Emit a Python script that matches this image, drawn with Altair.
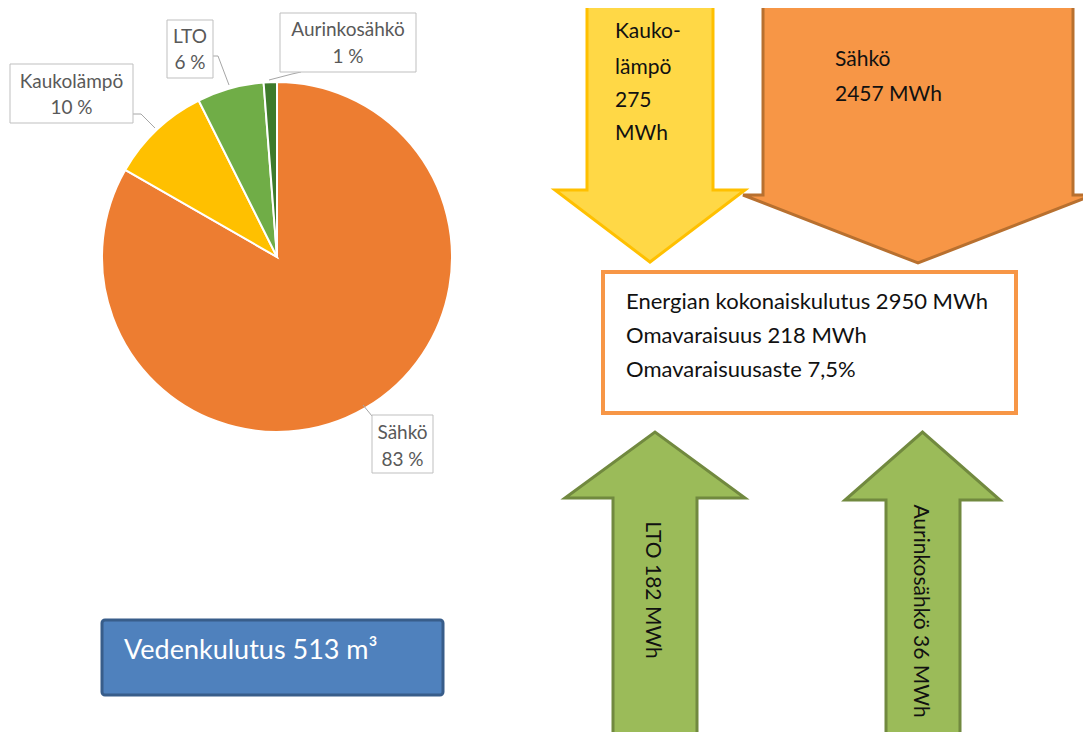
import altair as alt
import pandas as pd

# ---------------- data ----------------
sources = ["Sähkö", "Kaukolämpö", "LTO", "Aurinkosähkö"]
energy_mwh = [2457, 275, 182, 36]
share_labels = ["83 %", "10 %", "6 %", "1 %"]
total_mwh = 2950
self_suff_mwh = 218
self_suff_rate = "7,5%"
water_m3 = 513

slice_colors = ["#ED7D31", "#FFC000", "#70AD47", "#3E7A2B"]

# ---------------- layout (reference pixel frame) ----------------
W, H, OFF = 1075, 724, 8
XS = alt.Scale(domain=[OFF, OFF + W], nice=False, zero=False)
YS = alt.Scale(domain=[OFF, OFF + H], nice=False, zero=False, reverse=True)
FONT = "Lato"

PIE_CX, PIE_CY, PIE_R = 277, 257, 175

label_boxes = {
    "Kaukolämpö": dict(x0=10, x1=133, y0=64, y1=123, ny=82, py=108,
                       lead=[(133, 114), (141, 114), (155, 128)]),
    "LTO": dict(x0=167, x1=213, y0=20, y1=78, ny=37, py=63,
                lead=[(213, 56), (218, 56), (229, 85)]),
    "Aurinkosähkö": dict(x0=280, x1=416, y0=13, y1=72, ny=30, py=57,
                         lead=[(301, 72), (292, 74), (269, 80)]),
    "Sähkö": dict(x0=372, x1=433, y0=415, y1=473, ny=433, py=460,
                  lead=[(363, 405), (372, 416)]),
}

# arrows: shaft left/right, shaft end (off-page), head base y, head left/right, tip y
arrows = {
    "Kaukolämpö": dict(sl=587, sr=713, end=-20, base=190, hl=555, hr=745, tip=262,
                       fill="#FFD846", stroke="#FFC000"),
    "Sähkö": dict(sl=763, sr=1073, end=-20, base=195, hl=743, hr=1093, tip=263,
                  fill="#F79646", stroke="#B8702F"),
    "LTO": dict(sl=613, sr=697, end=770, base=498, hl=565, hr=745, tip=432,
                fill="#9BBB59", stroke="#71893F"),
    "Aurinkosähkö": dict(sl=886, sr=960, end=770, base=500, hl=845, hr=1000, tip=432,
                         fill="#9BBB59", stroke="#71893F"),
}


def arrow_feature(name, a):
    mid = (a["hl"] + a["hr"]) / 2
    ring = [
        [a["sl"], a["end"]], [a["sr"], a["end"]], [a["sr"], a["base"]],
        [a["hr"], a["base"]], [mid, a["tip"]], [a["hl"], a["base"]],
        [a["sl"], a["base"]], [a["sl"], a["end"]],
    ]
    ring = [[x - OFF, y - OFF] for x, y in ring]
    return {"type": "Feature", "geometry": {"type": "Polygon", "coordinates": [ring]},
            "properties": {"name": name, "fill": a["fill"], "stroke": a["stroke"]}}


# ---------------- pie ----------------
pie_df = pd.DataFrame({"source": sources, "mwh": energy_mwh, "ord": list(range(len(sources)))})
pie = alt.Chart(pie_df).mark_arc(outerRadius=PIE_R, stroke="white", strokeWidth=2).encode(
    theta=alt.Theta("mwh:Q", stack=True),
    color=alt.Color("source:N", scale=alt.Scale(domain=sources, range=slice_colors), legend=None),
    order=alt.Order("ord:Q"),
    x=alt.value(PIE_CX - OFF),
    y=alt.value(PIE_CY - OFF),
)

# leader lines
seg_rows = []
for s in sources:
    pts = label_boxes[s]["lead"]
    for (xa, ya), (xb, yb) in zip(pts[:-1], pts[1:]):
        seg_rows.append(dict(x=xa, y=ya, x2=xb, y2=yb))
leaders = alt.Chart(pd.DataFrame(seg_rows)).mark_rule(color="#A6A6A6", strokeWidth=1).encode(
    x=alt.X("x:Q", scale=XS, axis=None), y=alt.Y("y:Q", scale=YS, axis=None),
    x2="x2:Q", y2="y2:Q")

box_df = pd.DataFrame([dict(source=s, **{k: label_boxes[s][k] for k in ("x0", "x1", "y0", "y1")})
                       for s in sources])
label_rects = alt.Chart(box_df).mark_rect(fill="white", stroke="#BFBFBF", strokeWidth=1).encode(
    x=alt.X("x0:Q", scale=XS, axis=None), x2="x1:Q",
    y=alt.Y("y0:Q", scale=YS, axis=None), y2="y1:Q")

lab_rows = []
for s, p in zip(sources, share_labels):
    b = label_boxes[s]
    cx = (b["x0"] + b["x1"]) / 2
    lab_rows.append(dict(t=s, x=cx, y=b["ny"]))
    lab_rows.append(dict(t=p, x=cx, y=b["py"]))
label_text = alt.Chart(pd.DataFrame(lab_rows)).mark_text(
    font=FONT, fontSize=19, color="#595959", align="center", baseline="middle").encode(
    x=alt.X("x:Q", scale=XS, axis=None), y=alt.Y("y:Q", scale=YS, axis=None), text="t:N")

# ---------------- arrows ----------------
features = [arrow_feature(n, arrows[n]) for n in ["Sähkö", "Kaukolämpö", "LTO", "Aurinkosähkö"]]
arrow_layer = alt.Chart(alt.Data(values=features)).mark_geoshape(
    strokeWidth=3, strokeJoin="miter", clip=True).encode(
    fill=alt.Fill("properties.fill:N", scale=None),
    stroke=alt.Stroke("properties.stroke:N", scale=None),
).project(type="identity", scale=1, translate=[0, 0])

mwh = dict(zip(sources, energy_mwh))
down_rows = [
    dict(t="Kauko-", x=615, y=32), dict(t="lämpö", x=615, y=68),
    dict(t=str(mwh["Kaukolämpö"]), x=615, y=101), dict(t="MWh", x=615, y=134),
    dict(t="Sähkö", x=835, y=60), dict(t=f"{mwh['Sähkö']} MWh", x=835, y=95),
]
down_text = alt.Chart(pd.DataFrame(down_rows)).mark_text(
    font=FONT, fontSize=21, color="#111111", align="left", baseline="middle").encode(
    x=alt.X("x:Q", scale=XS, axis=None), y=alt.Y("y:Q", scale=YS, axis=None), text="t:N")

up_rows = [
    dict(t=f"LTO {mwh['LTO']} MWh", x=652, y=590),
    dict(t=f"Aurinkosähkö {mwh['Aurinkosähkö']} MWh", x=920, y=611),
]
up_text = alt.Chart(pd.DataFrame(up_rows)).mark_text(
    font=FONT, fontSize=21, color="#111111", align="center", baseline="middle", angle=90).encode(
    x=alt.X("x:Q", scale=XS, axis=None), y=alt.Y("y:Q", scale=YS, axis=None), text="t:N")

# ---------------- summary box ----------------
sum_box = alt.Chart(pd.DataFrame([dict(x0=603, x1=1016, y0=272, y1=413)])).mark_rect(
    fill="white", stroke="#F79646", strokeWidth=4).encode(
    x=alt.X("x0:Q", scale=XS, axis=None), x2="x1:Q",
    y=alt.Y("y0:Q", scale=YS, axis=None), y2="y1:Q")
sum_rows = [
    dict(t=f"Energian kokonaiskulutus {total_mwh} MWh", x=626, y=302),
    dict(t=f"Omavaraisuus {self_suff_mwh} MWh", x=626, y=336),
    dict(t=f"Omavaraisuusaste {self_suff_rate}", x=626, y=370),
]
sum_text = alt.Chart(pd.DataFrame(sum_rows)).mark_text(
    font=FONT, fontSize=22, color="#111111", align="left", baseline="middle").encode(
    x=alt.X("x:Q", scale=XS, axis=None), y=alt.Y("y:Q", scale=YS, axis=None), text="t:N")

# ---------------- water box ----------------
water_box = alt.Chart(pd.DataFrame([dict(x0=102, x1=443, y0=620, y1=695)])).mark_rect(
    fill="#4F81BD", stroke="#385D8A", strokeWidth=3, cornerRadius=3).encode(
    x=alt.X("x0:Q", scale=XS, axis=None), x2="x1:Q",
    y=alt.Y("y0:Q", scale=YS, axis=None), y2="y1:Q")
water_text = alt.Chart(pd.DataFrame([dict(t=f"Vedenkulutus {water_m3} m³", x=124, y=651)])).mark_text(
    font=FONT, fontSize=27, color="white", align="left", baseline="middle").encode(
    x=alt.X("x:Q", scale=XS, axis=None), y=alt.Y("y:Q", scale=YS, axis=None), text="t:N")

chart = alt.layer(
    arrow_layer, pie, leaders, label_rects, label_text,
    down_text, up_text, sum_box, sum_text, water_box, water_text,
).properties(
    width=W, height=H, padding=0, autosize=alt.AutoSizeParams(type="none"),
    background="white",
).configure_view(stroke=None)

chart.save("out.html", embed_options={"renderer": "svg", "actions": False})
